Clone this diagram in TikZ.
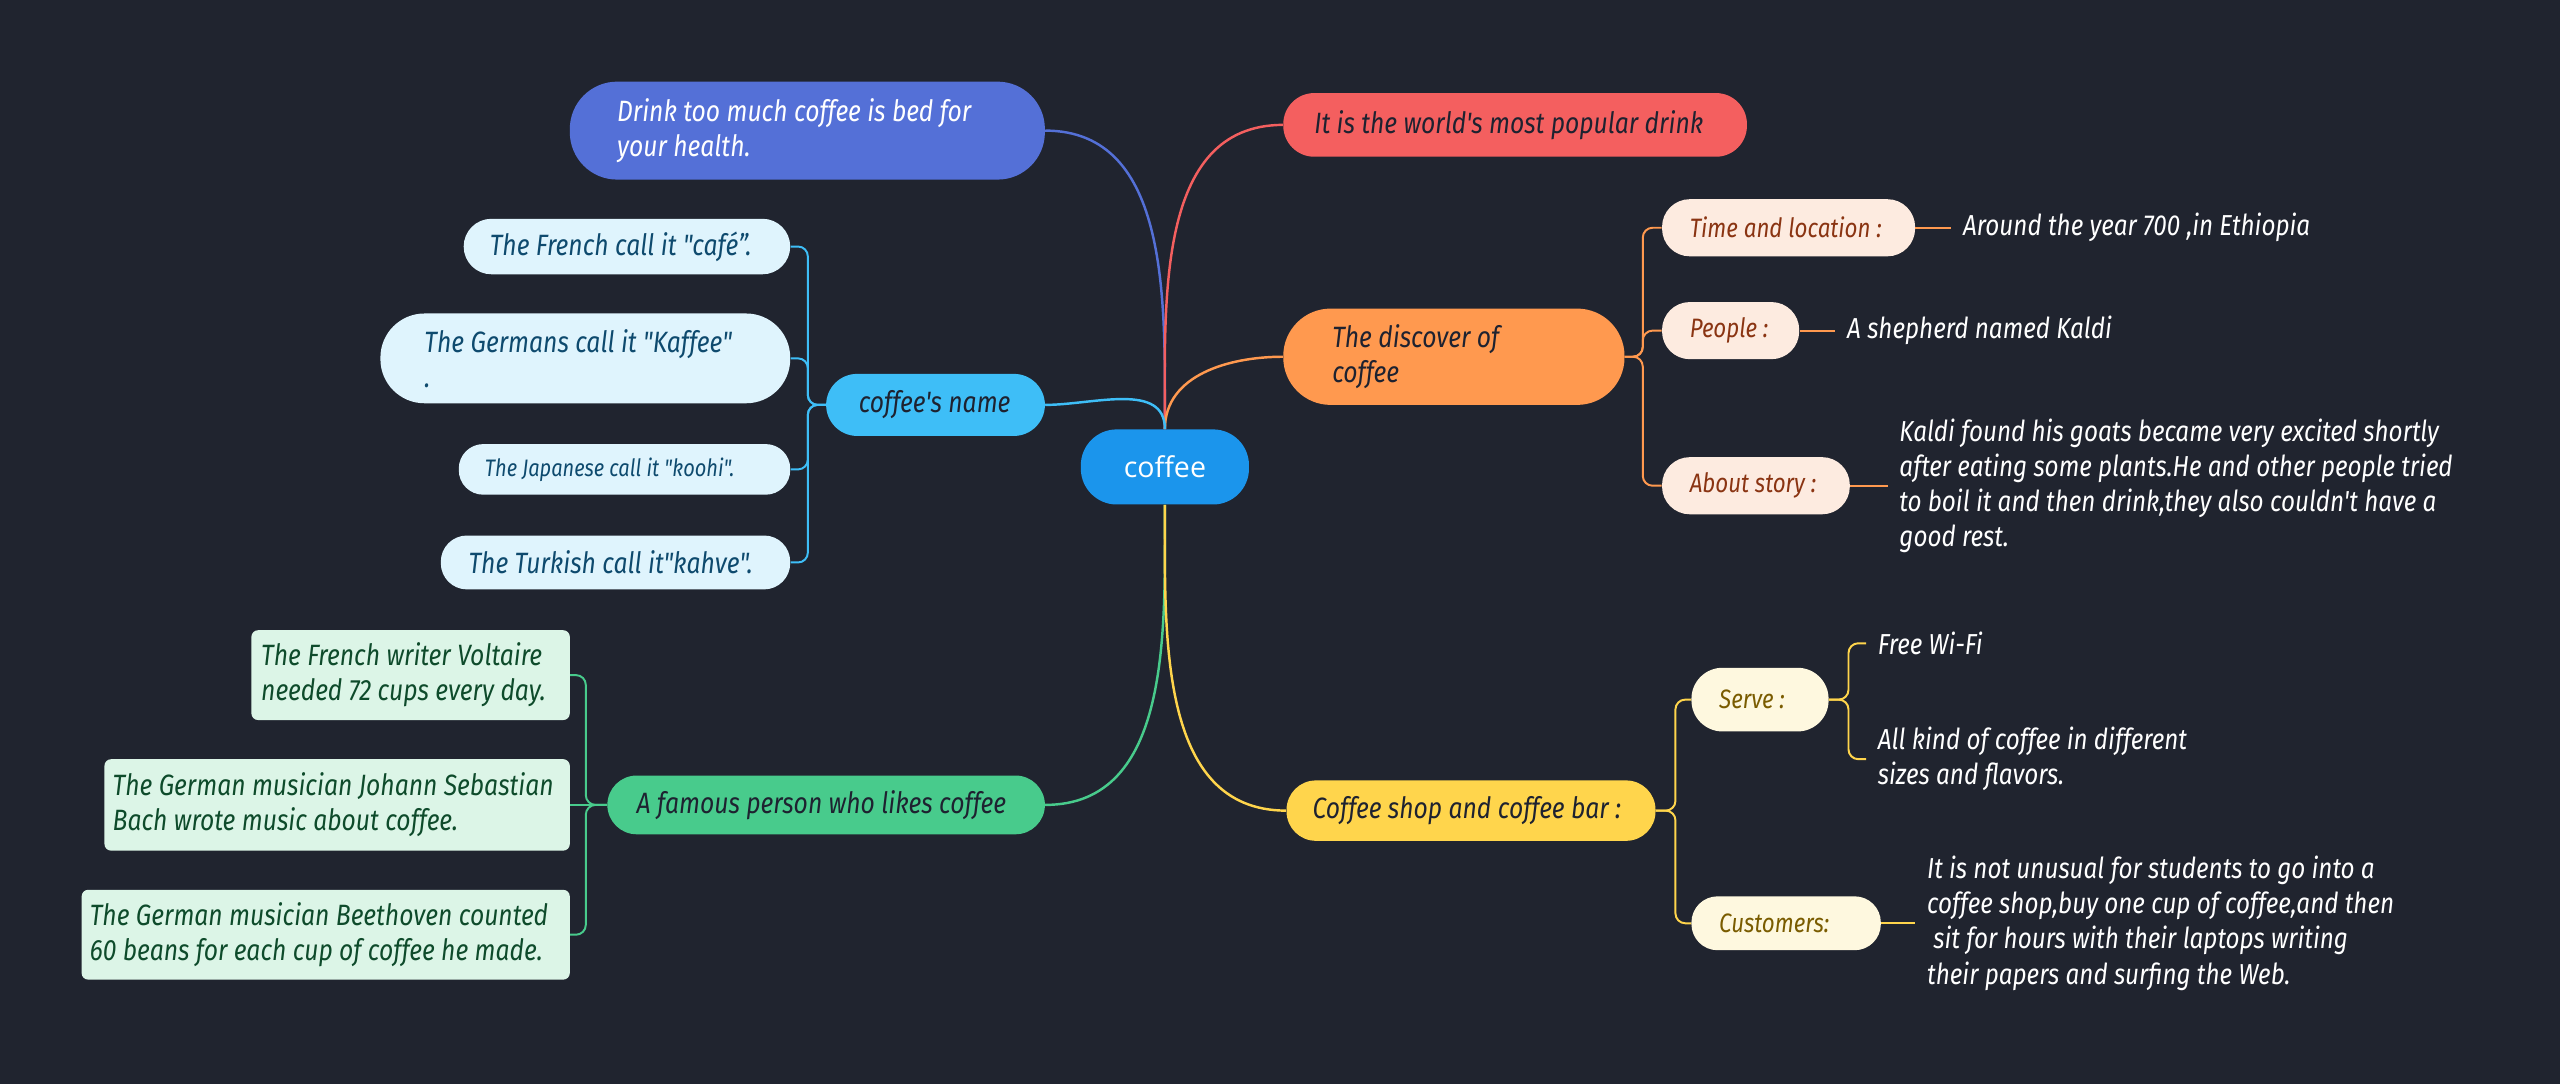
\documentclass[tikz,border=0pt]{standalone}
\usepackage{fontspec}
\setmainfont{Fira Sans}
\newfontfamily\mapfont[FakeStretch=0.84]{Fira Sans}
\newfontfamily\rootfont{Open Sans}
\usetikzlibrary{positioning}

\definecolor{bgdark}{HTML}{20242F}
\definecolor{textdark}{HTML}{1E2230}
\definecolor{rootblue}{HTML}{1B95EC}
\definecolor{drinkblue}{HTML}{5470D7}
\definecolor{popred}{HTML}{F45F5F}
\definecolor{discorange}{HTML}{FF994F}
\definecolor{shopyellow}{HTML}{FFD54C}
\definecolor{nameblue}{HTML}{3EBEF7}
\definecolor{famegreen}{HTML}{48CB8C}
\definecolor{orangepale}{HTML}{FDEBE0}
\definecolor{orangetext}{HTML}{8A3412}
\definecolor{yellowpale}{HTML}{FEF8DF}
\definecolor{yellowtext}{HTML}{7A5C00}
\definecolor{bluepale}{HTML}{DFF4FD}
\definecolor{bluetext}{HTML}{0E4A6E}
\definecolor{greenpale}{HTML}{DCF5E7}
\definecolor{greentext}{HTML}{0E4B2B}

\begin{document}
\begin{tikzpicture}[
    x=1pt, y=1pt,
    node distance=22pt,
    lpad/.style={inner xsep=0pt,
                execute at begin node={\leftskip=#1pt\spaceskip=0pt\xspaceskip=0pt\relax}},
    box/.style={rectangle, inner ysep=0pt, align=left, rounded corners=17pt,
                font=\mapfont\itshape\fontsize{18}{21.5}\selectfont, text=textdark},
    topic/.style={box, fill=#1},
    subtopic/.style 2 args={box, fill=#1, text=#2,
                font=\mapfont\itshape\fontsize{16.3}{21.5}\selectfont},
    namebox/.style={subtopic={bluepale}{bluetext},
                font=\mapfont\itshape\fontsize{18}{21.5}\selectfont},
    famebox/.style={subtopic={greenpale}{greentext}, rounded corners=4pt,
                font=\mapfont\itshape\fontsize{18}{21.5}\selectfont},
    leaf/.style={align=left, inner xsep=7pt, inner ysep=0pt, text=white,
                font=\mapfont\itshape\fontsize{17.7}{21.5}\selectfont},
    link/.style={line width=1.5pt, draw=#1},
    twig/.style={line width=1.2pt, draw=#1, rounded corners=6pt}
]

% Canvas
\useasboundingbox (0,0) rectangle (1568,-664);
\fill[bgdark] (0,0) rectangle (1568,-664);

% Root
\node[rectangle, rounded corners=22pt, fill=rootblue, text=white, minimum width=103pt,
      minimum height=46pt, font=\rootfont\fontsize{17.5}{20}\selectfont] (coffee) at (713.5,-286) {coffee};

% Main topics - right side
\node[topic=popred, text width=284pt, lpad=19, minimum height=39pt, rounded corners=19pt]
      (popular) at (928,-76.5) {It is the world's most popular drink};
\node[topic=discorange, text width=209pt, lpad=30, minimum height=59pt, rounded corners=29pt]
      (discover) at (890.5,-218.5) {The discover of\\coffee};
\node[topic=shopyellow, text width=226pt, lpad=16, minimum height=37pt, rounded corners=18pt]
      (shop) at (901,-496.5) {Coffee shop and coffee bar :};

% Main topics - left side
\node[topic=drinkblue, text=white, text width=291pt, lpad=29, minimum height=60pt, rounded corners=29pt]
      (drink) at (494.5,-80) {Drink too much coffee is bed for\\your health.};
\node[topic=nameblue, text width=134pt, lpad=20, minimum height=38pt, rounded corners=19pt]
      (coffee_name) at (573,-248) {coffee's name};
\node[topic=famegreen, text width=268pt, lpad=18, minimum height=36pt, rounded corners=18pt]
      (famous) at (506,-493) {A famous person who likes coffee};

% Discovery details
\node[subtopic={orangepale}{orangetext}, text width=155pt, lpad=17, minimum height=35pt]
      (time_loc) at (1095.5,-139.5) {Time and location :};
\node[subtopic={orangepale}{orangetext}, text width=84pt, lpad=17, minimum height=35pt]
      (people) at (1060,-202.5) {People :};
\node[subtopic={orangepale}{orangetext}, text width=115pt, lpad=17, minimum height=35pt]
      (about_story) at (1075.5,-297.5) {About story :};

\node[leaf, right=of time_loc] (ethiopia) {Around the year 700 ,in Ethiopia};
\node[leaf, right=of people] (kaldi) {A shepherd named Kaldi};
\node[leaf, right=23pt of about_story] (story_text) {Kaldi found his goats became very excited shortly\\after eating some plants.He and other people tried\\to boil it and then drink,they also couldn't have a\\good rest.};

% Coffee shop details
\node[subtopic={yellowpale}{yellowtext}, text width=84pt, lpad=17, minimum height=39pt, rounded corners=19pt]
      (serve) at (1078,-428.5) {Serve :};
\node[subtopic={yellowpale}{yellowtext}, text width=116pt, lpad=17, minimum height=33pt, rounded corners=16pt]
      (customers) at (1094,-565.5) {Customers:};

\node[leaf, anchor=west] (wifi) at (1143,-394) {Free Wi-Fi};
\node[leaf, anchor=west] (all_kind) at (1143,-465) {All kind of coffee in different\\sizes and flavors.};
\node[leaf, right=21pt of customers] (cust_text) {It is not unusual for students to go into a\\coffee shop,buy one cup of coffee,and then\\\ sit for hours with their laptops writing\\their papers and surfing the Web.};

% Names
\node[namebox, text width=200pt, lpad=16, minimum height=34pt]
      (french) at (384,-151) {The French call it "café”.};
\node[namebox, text width=251pt, lpad=27, minimum height=55pt, rounded corners=27pt]
      (germans) at (358.5,-219.5) {The Germans call it "Kaffee"\\.};
\node[namebox, text width=203pt, lpad=16, minimum height=31pt, rounded corners=15pt,
      font=\mapfont\itshape\fontsize{14.6}{21.5}\selectfont]
      (japanese) at (382.5,-287.5) {The Japanese call it "koohi".};
\node[namebox, text width=214pt, lpad=17, minimum height=33pt, rounded corners=16pt]
      (turkish) at (377,-344.5) {The Turkish call it"kahve".};

% Famous people
\node[famebox, text width=195pt, lpad=6, minimum height=55pt]
      (voltaire) at (251.5,-413.5) {The French writer Voltaire\\needed 72 cups every day.};
\node[famebox, text width=285pt, lpad=5, minimum height=56pt]
      (bach) at (206.5,-493) {The German musician Johann Sebastian\\Bach wrote music about coffee.};
\node[famebox, text width=299pt, lpad=5, minimum height=55pt]
      (beethoven) at (199.5,-572.5) {The German musician Beethoven counted\\60 beans for each cup of coffee he made.};

% Branches from the root
\draw[link=drinkblue] (coffee.north) to[out=90, in=0] (drink.east);
\draw[link=popred] (coffee.north) to[out=90, in=180] (popular.west);
\draw[link=discorange] (coffee.north) to[out=90, in=180] (discover.west);
\draw[link=nameblue] (coffee.north) to[out=90, in=0] (coffee_name.east);
\draw[link=famegreen] (coffee.south) to[out=-90, in=0] (famous.east);
\draw[link=shopyellow] (coffee.south) to[out=-90, in=180] (shop.west);

% Twigs - discovery
\draw[twig=discorange] (discover.east) -- ++(11,0) |- (time_loc.west);
\draw[twig=discorange] (discover.east) -- ++(11,0) |- (people.west);
\draw[twig=discorange] (discover.east) -- ++(11,0) |- (about_story.west);
\draw[twig=discorange] (time_loc.east) -- (ethiopia.west);
\draw[twig=discorange] (people.east) -- (kaldi.west);
\draw[twig=discorange] (about_story.east) -- (story_text.west);

% Twigs - coffee shop
\draw[twig=shopyellow] (shop.east) -- ++(12,0) |- (serve.west);
\draw[twig=shopyellow] (shop.east) -- ++(12,0) |- (customers.west);
\draw[twig=shopyellow] (serve.east) -- ++(12,0) |- (wifi.west);
\draw[twig=shopyellow] (serve.east) -- ++(12,0) |- (all_kind.west);
\draw[twig=shopyellow] (customers.east) -- (cust_text.west);

% Twigs - names
\draw[twig=nameblue] (coffee_name.west) -- ++(-11,0) |- (french.east);
\draw[twig=nameblue] (coffee_name.west) -- ++(-11,0) |- (germans.east);
\draw[twig=nameblue] (coffee_name.west) -- ++(-11,0) |- (japanese.east);
\draw[twig=nameblue] (coffee_name.west) -- ++(-11,0) |- (turkish.east);

% Twigs - famous people
\draw[twig=famegreen] (famous.west) -- ++(-13,0) |- (voltaire.east);
\draw[twig=famegreen] (famous.west) -- (bach.east);
\draw[twig=famegreen] (famous.west) -- ++(-13,0) |- (beethoven.east);

\end{tikzpicture}
\end{document}
